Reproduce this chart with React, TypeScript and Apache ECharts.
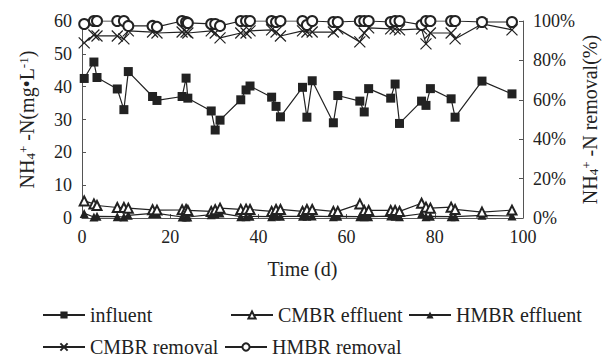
import React, { useEffect, useRef } from 'react';
import * as echarts from 'echarts';

const days = [0.5, 2.7, 3.4, 8, 9.5, 10.5, 16, 17, 22.7, 23.6, 24, 29.3, 30.2, 31.3, 36, 37.2, 38.1, 43, 44, 45, 50, 51, 52.2, 57, 58, 63, 64, 65, 70, 71, 72, 77, 78, 79, 83.7, 84.6, 90.7, 97.5];
const influent = [42.5, 47.5, 42.8, 39.3, 33, 44.6, 37, 35.8, 37, 42.6, 36.5, 32.6, 26.8, 29.8, 36, 39, 40.2, 36.8, 34, 30.8, 39.8, 30.7, 41.8, 29, 37.3, 35.6, 32.3, 39.4, 36.5, 40.8, 28.8, 35.6, 34.3, 39.4, 36.3, 30.7, 41.7, 37.8];
const cmbrEffluent = [5.2, 4.3, 3.8, 3.2, 3.2, 3, 2.5, 2.4, 2.5, 2.6, 2.3, 2, 2.5, 3, 2.6, 2.7, 2.6, 2, 2.6, 2.6, 2, 2.6, 2.6, 2, 2, 4.3, 2.3, 2.3, 2.3, 2.3, 2, 4.5, 3.3, 3, 3.3, 2.6, 1.8, 2.4];
const hmbrEffluent = [1.4, 0.3, 0.5, 0.4, 0.3, 0.8, 1.4, 1.4, 0.3, 0.3, 0.3, 1, 1.2, 1.5, 0.4, 0.4, 0.5, 0.4, 0.6, 0.5, 0.5, 0.5, 0.6, 0.4, 0.5, 0.4, 0.4, 0.4, 0.6, 0.5, 0.4, 1.3, 0.4, 0.5, 0.4, 0.4, 0.8, 0.6];
const cmbrRemoval = [88.9, 92.9, 92.4, 92.4, 90.9, 95, 94.4, 93.9, 94.4, 94.4, 93.9, 95, 93.9, 91.4, 93.9, 93.9, 95, 95.5, 94.4, 92.4, 95, 94.4, 94.4, 94.4, 96, 89.4, 93.9, 96.5, 96, 96, 95.5, 96, 88.4, 93.9, 93.9, 90.9, 98.5, 95.5];
const hmbrRemoval = [98.5, 100, 100, 100, 100, 97.5, 97.5, 97, 100, 99.5, 99, 98.5, 98.5, 97.5, 100, 100, 100, 100, 99.5, 100, 100, 98, 100, 99.5, 99.5, 100, 100, 100, 99.5, 100, 100, 98, 100, 100, 100, 100, 99.5, 99.5];

const seriesNames = ['influent', 'CMBR effluent', 'HMBR effluent', 'CMBR removal', 'HMBR removal'];

const FONT = 'Liberation Serif, serif';
const INK = '#222';
const AXIS = '#555';

const pairs = (vals: number[]) => days.map((d, i) => [d, vals[i]]);

const nameRich = {
  n: { fontSize: 20, fontFamily: FONT, color: INK, lineHeight: 20 },
  sub: { fontSize: 13, fontFamily: FONT, color: INK, lineHeight: 10, verticalAlign: 'bottom' },
  sup: { fontSize: 13, fontFamily: FONT, color: INK, lineHeight: 10, verticalAlign: 'top' },
};

export default function App() {
  const ref = useRef<HTMLDivElement>(null);
  useEffect(() => {
    if (!ref.current) return;
    const chart = echarts.init(ref.current, undefined, { renderer: 'svg' });
    const axisCommon = {
      axisLine: { show: true, lineStyle: { color: AXIS, width: 1 } },
      axisTick: { show: true, inside: true, length: 4, lineStyle: { color: AXIS, width: 1 } },
      axisLabel: { fontSize: 18, fontFamily: FONT, color: INK, margin: 10 },
      splitLine: { show: false },
    };
    const lineStyle = { color: INK, width: 1.2 };
    const mkSeries = (name: string, vals: number[], yAxisIndex: number, symbol: string, symbolSize: number, extra: any = {}) => ({
      name,
      type: 'line',
      yAxisIndex,
      data: pairs(vals),
      symbol,
      symbolSize,
      lineStyle,
      itemStyle: { color: INK, ...(extra.itemStyle || {}) },
      z: extra.z || 2,
    });
    const legendText = { fontSize: 20, fontFamily: FONT, color: INK };
    const mkLegend = (name: string, left: number, top: number) => ({
      data: [name],
      left,
      top,
      itemWidth: 42,
      itemHeight: 9,
      itemGap: 0,
      padding: 0,
      textStyle: legendText,
      selectedMode: false,
    });
    chart.setOption({
      animation: false,
      backgroundColor: '#fff',
      grid: {
        left: 82,
        top: 21,
        width: 441,
        height: 197,
        outerBoundsMode: 'none',
      },
      legend: [
        mkLegend(seriesNames[0], 42, 305),
        mkLegend(seriesNames[1], 230, 305),
        mkLegend(seriesNames[2], 408, 305),
        mkLegend(seriesNames[3], 42, 337),
        mkLegend(seriesNames[4], 224, 337),
      ],
      xAxis: {
        type: 'value',
        min: 0,
        max: 100,
        interval: 20,
        ...axisCommon,
        name: 'Time (d)',
        nameLocation: 'middle',
        nameGap: 41,
        nameMoveOverlap: false,
        nameTextStyle: { fontSize: 20, fontFamily: FONT, color: INK },
      },
      yAxis: [
        {
          type: 'value',
          min: 0,
          max: 60,
          interval: 10,
          position: 'left',
          ...axisCommon,
          name: '{n|NH}{sub|4}{sup|+}{n| -N(mg•L}{sup|-1}{n|)}',
          nameLocation: 'middle',
          nameGap: 45,
          nameRotate: 90,
          nameMoveOverlap: false,
          nameTextStyle: { rich: nameRich },
        },
        {
          type: 'value',
          min: 0,
          max: 100,
          interval: 20,
          position: 'right',
          ...axisCommon,
          axisLabel: { ...axisCommon.axisLabel, formatter: '{value}%' },
          name: '{n|NH}{sub|4}{sup|+}{n| -N removal(%)}',
          nameLocation: 'middle',
          nameGap: 57,
          nameRotate: 90,
          nameMoveOverlap: false,
          nameTextStyle: { rich: nameRich },
        },
      ],
      series: [
        mkSeries(seriesNames[0], influent, 0, 'rect', 9, { z: 5 }),
        mkSeries(seriesNames[1], cmbrEffluent, 0, 'emptyTriangle', 9, { z: 4, itemStyle: { borderWidth: 1 } }),
        mkSeries(seriesNames[2], hmbrEffluent, 0, 'triangle', 9, { z: 3 }),
        mkSeries(seriesNames[3], cmbrRemoval, 1, 'path://M0,0L10,10M10,0L0,10', 11, {
          itemStyle: { borderColor: INK, borderWidth: 1.2 },
          z: 3,
        }),
        mkSeries(seriesNames[4], hmbrRemoval, 1, 'emptyCircle', 10, { z: 4, itemStyle: { borderWidth: 1 } }),
      ],
    });
    return () => chart.dispose();
  }, []);
  return (
    <div
      ref={ref}
      style={{ position: 'fixed', left: 0, top: 0, width: 605, height: 357, background: '#fff' }}
    />
  );
}
